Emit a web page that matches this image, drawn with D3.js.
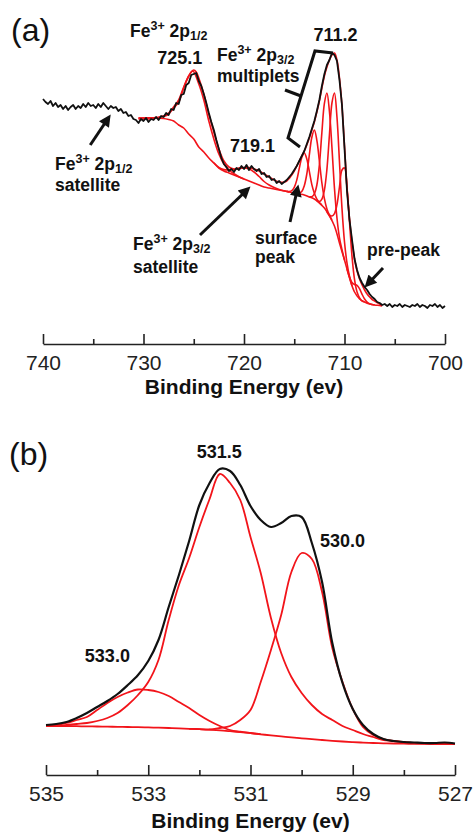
<!DOCTYPE html>
<html lang="en">
<head>
<meta charset="UTF-8">
<title>Fe 2p / O 1s XPS</title>
<script src="https://d3js.org/d3.v7.min.js"></script>
<style>
    body { margin: 0; background: #fff; }
    svg text { font-family: "Liberation Sans", Arial, sans-serif; fill: #111; }
    .lbl { font-weight: bold; font-size: 17.5px; }
    .num { font-weight: bold; font-size: 18px; }
    .axis text { font-size: 21px; fill: #222; }
    .axis path, .axis line { stroke: #222; stroke-width: 1.6px; }
    .xtitle { font-weight: bold; font-size: 21px; }
    .panel { font-size: 32px; }
</style>
</head>
<body>
<svg id="chart" width="473" height="833"></svg>
<script>
    // ---------- panel (a): Fe 2p ----------
    // measured spectrum, 740 -> 700 eV every 0.25 eV (one row per eV)
    const beA = d3.range(161).map(i => 740 - i * 0.25);
    const fe2pData = [
        217, 214, 212, 215,   210, 213, 209, 211,   207, 210, 206, 209,
        211, 207, 210, 208,   212, 209, 213, 210,   211, 208, 212, 209,
        213, 210, 207, 210,   208, 209, 205, 207,   203, 204, 200, 201,
        197, 196, 193, 197,   195, 198, 194, 197,   196, 199, 196, 200,
        199, 203, 201, 207,   206, 213, 212, 221,   222, 231, 233, 241,
        242, 243, 235, 230,   222, 213, 203, 194,   186, 176, 167, 158,
        152, 149, 145, 147,   144, 148, 146, 150,   147, 151, 146, 150,
        147, 145, 147, 142,   143, 139, 140, 136,   137, 133, 135, 132,
        134, 136, 139, 142,   146, 150, 155, 160,   165, 172, 179, 187,
        195, 205, 216, 230,   242, 251, 256, 263,   261, 255, 236, 211,
        168, 125, 96, 76,     57, 46, 38, 33,       29, 26, 22, 19,
        17, 14, 13, 11,       12, 10, 12, 9,        11, 10, 12, 9,
        11, 10, 9, 11,        10, 12, 9, 11,        10, 8, 11, 10,
        12, 9, 11, 8,
        10
    ];
    const fe2pEnvelope = [[730.5,197],[730,197],[729.5,197],[729,197.5],[728.5,198.5],[728,200],[727.5,203],[727,209],
        [726.5,216],[726,229],[725.5,240],[725.25,244],[725,246],[724.75,244],[724.5,238],[724,222],[723.5,202],
        [723,184],[722.5,167],[722,155],[721.5,149],[721,147],[720.5,148],[720,148.5],[719.5,148.5],[719,147],
        [718.5,145],[718,142],[717.5,139],[717,136],[716.5,134],[716,134],[715.75,135],[715.5,137.5],[715.25,141],
        [715,145],[714.75,150],[714.5,155],[714.25,160],[714,165],[713.75,171],[713.5,178],[713.25,186],[713,194],
        [712.75,204],[712.5,215],[712.25,228],[712,240],[711.75,249],[711.5,256],[711.25,261],[711,263],[710.75,256],
        [710.5,238],[710.25,210],[710,170],[709.75,128],[709.5,97],[709.25,74],[709,57],[708.75,45],[708.5,37],
        [708.25,31],[708,26],[707.75,22],[707.5,19],[707.25,16.5],[707,15],[706.75,13.5],[706.5,12],[706.25,11]];
    const fe2pBackground = [[730.5,198],[730,198],[729,198],[728,197.5],[727.5,196.5],[727,195],[726.5,191],[726,188],
        [725.5,182],[725,177],[724.5,169],[724,164],[723.5,158],[723,153],[722.5,148],[722,145],[721.5,143],[721,141],
        [720.5,139],[720,137],[719.5,135],[719,133],[718.5,131],[718,129],[717.5,128],[717,127],[716.5,126],[716,125],
        [715.5,124],[715,123],[714.5,122],[714,121],[713.5,119],[713,117],[712.5,113],[712,108],[711.5,100],[711,90],
        [710.5,73],[710,56],[709.5,38],[709,24],[708.5,17],[708,14],[707.5,12],[707,11],[706.5,10.5],[706.25,10]];
    const fe2p12Peak = [[730.5,198],[730,198],[729.5,198.2],[729,198.3],[728.5,198.8],[728,199.5],[727.5,202],[727,208],
        [726.5,214],[726,228],[725.5,240],[725.1,245],[724.5,232],[724,216],[723.5,195],[723,177],[722.5,162],
        [722,152],[721.5,146],[721,142.3],[720.5,139.3],[720,137]];
    const fe2p32Satellite = [[723,153.2],[722.5,148.5],[722,146.4],[721.5,146],[721,146.5],[720.5,147.5],[720,148],
        [719.5,147],[719,144],[718.5,139.5],[718,134.5],[717.5,131],[717,128.4],[716.5,126.5],[716,125.2],[715.5,124]];
    const surfacePeak = [[715.75,124.6],[715.5,124.5],[715.25,125.3],[715,128.7],[714.75,135.9],[714.5,147.6],
        [714.25,158.5],[714,163],[713.75,157],[713.5,144.6],[713.25,131.4],[713,122.7],[712.75,116.8],[712.5,113.5],[712.25,111.2]];
    const multiplet1 = [[714.75,122.5],[714.5,122.8],[714.25,124.5],[714,130.3],[713.75,142],[713.5,161],[713.25,178.7],
        [713,186],[712.75,175.7],[712.5,155],[712.25,133],[712,117.3],[711.75,107],[711.5,100.8],[711.25,96]];
    const multiplet2 = [[713.5,119.2],[713.25,119.3],[713,122.2],[712.75,131],[712.5,151],[712.25,183.6],[712,212.7],
        [711.75,223],[711.5,204.7],[711.25,168.6],[711,128],[710.75,98],[710.5,78.2],[710.25,66.3],[710,56]];
    const multiplet3 = [[712.75,115.2],[712.5,114.5],[712.25,116.9],[712,126],[711.75,146.6],[711.5,181],[711.25,213],
        [711,223],[710.75,199],[710.5,154],[710.25,107.6],[710,74],[709.75,52.9],[709.5,39.5],[709.25,30]];
    const multiplet4 = [[711.75,104],[711.5,101],[711.25,100],[711,102.4],[710.75,111.4],[710.5,129],[710.25,146],
        [710,148],[709.75,128],[709.5,94],[709.25,59.4],[709,36.4],[708.75,24],[708.5,18],[708.25,15],[708,14]];
    const prePeak = [[709.75,47],[709.5,39],[709.25,33.5],[709,31.5],[708.75,30.7],[708.5,27.2],[708.25,21.7],
        [708,17],[707.75,13.9],[707.5,12.2],[707.25,11.5],[707,11]];

    const ticksA = [740, 730, 720, 710, 700];
    const minorTicksA = [735, 725, 715, 705];

    // ---------- panel (b): O 1s ----------
    // 535 -> 527 eV every 0.2 eV
    const beB = d3.range(41).map(i => 535 - i * 0.2);
    const o1sData = [20, 21, 23, 27, 32, 38, 44, 51, 60, 70, 84, 105, 138, 170, 204, 240, 262, 276, 274, 260,
        239, 225, 218, 222, 229, 228, 202, 163, 102, 62, 36, 20, 11, 6, 4, 3, 2.5, 2, 2, 2.5, 1.5];
    const o1sBackground = [19, 19, 19, 18.8, 18.6, 18.5, 18.3, 18.2, 18, 17.9, 17.6, 17.3, 17, 16.6, 16.2, 15.8,
        15.3, 14.7, 13.8, 12.8, 11.8, 10.7, 9.6, 8.6, 7.6, 6.7, 5.8, 5, 4.2, 3.5, 2.9, 2.4, 2, 1.7, 1.5, 1.3,
        1.2, 1.1, 1, 1, 1];
    const o1s531 = [19, 19, 20, 21, 22, 24, 27, 32, 40, 50, 63, 85, 125, 160, 187, 218, 246, 271, 262, 245,
        208, 172, 127, 92, 68, 52, 40, 31, 25, 19, 15, 11, 8, 5, 4, 2.5, 1.8, 1.5, 1.2, 1, 1];
    const o1s533 = [[535,19],[534.8,20],[534.6,22],[534.4,25],[534.2,28],[534,35],[533.8,42],[533.6,48],[533.4,52.5],
        [533.2,55.5],[533,55],[532.8,53],[532.6,49],[532.4,43],[532.2,37],[532,30],[531.8,24],[531.6,19],
        [531.4,15],[531.2,13.3],[531,12],[530.8,10.8]];
    const o1s530 = [[532.2,16.2],[532,15.9],[531.8,15.5],[531.6,17],[531.4,19],[531.2,25],[531,35],[530.8,63],
        [530.6,95],[530.4,130],[530.2,173],[530,192],[529.8,186],[529.6,153],[529.4,97],[529.2,63],[529,36],
        [528.8,18],[528.6,10],[528.4,6],[528.2,4],[528,3],[527.8,2],[527.6,2],[527.4,1.5],[527.2,1.2],[527,1]];

    const ticksB = [535, 533, 531, 529, 527];
    const minorTicksB = [534, 532, 530, 528];

    const RED = "#f2141a";
    const svg = d3.select("#chart");

    svg.append("defs").append("marker")
        .attr("id", "arrow")
        .attr("viewBox", "0 0 10 10")
        .attr("refX", 2).attr("refY", 5)
        .attr("markerWidth", 4.6).attr("markerHeight", 4)
        .attr("orient", "auto")
        .append("path").attr("d", "M0,0L10,5L0,10z").attr("fill", "#111");

    function drawAxis(x, y0, major, minor, title, titleY) {
        svg.append("g").attr("class", "axis")
            .attr("transform", `translate(0,${y0})`)
            .call(d3.axisBottom(x).tickValues(major).tickSizeInner(-10).tickSizeOuter(0)
                .tickPadding(11).tickFormat(d3.format("d")));
        svg.append("g").attr("class", "axis")
            .attr("transform", `translate(0,${y0})`)
            .call(d3.axisBottom(x).tickValues(minor).tickSize(-5).tickFormat(""))
            .call(g => g.select(".domain").remove());
        const r = x.range();
        svg.append("text").attr("class", "xtitle")
            .attr("x", (r[0] + r[1]) / 2).attr("y", titleY)
            .attr("text-anchor", "middle").text(title);
    }

    // "Fe3+ 2p1/2" style label with super- and subscript
    function feLabel(x, y, sub) {
        const t = svg.append("text").attr("class", "lbl").attr("x", x).attr("y", y);
        t.append("tspan").text("Fe");
        t.append("tspan").attr("font-size", 12.5).attr("dy", -7).text("3+");
        t.append("tspan").attr("dy", 7).text(" 2p");
        t.append("tspan").attr("font-size", 12.5).attr("dy", 3).text(sub);
        return t;
    }

    function arrow(x, y, from, to) {
        const x1 = x(from[0]), y1 = y(from[1]), x2 = x(to[0]), y2 = y(to[1]);
        const len = Math.hypot(x2 - x1, y2 - y1), back = 9;
        svg.append("line")
            .attr("x1", x1).attr("y1", y1)
            .attr("x2", x2 - (x2 - x1) * back / len).attr("y2", y2 - (y2 - y1) * back / len)
            .attr("stroke", "#111").attr("stroke-width", 3)
            .attr("marker-end", "url(#arrow)");
    }

    // ---- panel (a)
    const xA = d3.scaleLinear().domain([740, 700]).range([43, 445]);
    const yA = d3.scaleLinear().domain([0, 270]).range([316, 46]);
    const lineA = d3.line().x(d => xA(d[0])).y(d => yA(d[1])).curve(d3.curveCatmullRom.alpha(0.5));

    const gA = svg.append("g");
    [fe2pBackground, fe2p12Peak, fe2p32Satellite, surfacePeak, multiplet1, multiplet2, multiplet3, multiplet4, prePeak, fe2pEnvelope]
        .forEach(s => gA.append("path").attr("d", lineA(s)).attr("fill", "none")
            .attr("stroke", RED).attr("stroke-width", 1.6));
    gA.append("path")
        .attr("d", d3.line().x((d, i) => xA(beA[i])).y(d => yA(d))(fe2pData))
        .attr("fill", "none").attr("stroke", "#111").attr("stroke-width", 1.8)
        .attr("stroke-linejoin", "round");

    drawAxis(xA, 344, ticksA, minorTicksA, "Binding Energy (ev)", 394);

    svg.append("text").attr("class", "panel").attr("x", 11).attr("y", 41).text("(a)");

    // bracket over the 2p3/2 multiplets
    const bracket = [[711.14, 263], [712.94, 265], [715.62, 178], [714.43, 169]];
    const bracketTick = [[714.33, 220], [715.92, 226]];
    const straight = d3.line().x(d => xA(d[0])).y(d => yA(d[1]));
    svg.append("path").attr("d", straight(bracket)).attr("fill", "none")
        .attr("stroke", "#111").attr("stroke-width", 3);
    svg.append("path").attr("d", straight(bracketTick)).attr("fill", "none")
        .attr("stroke", "#111").attr("stroke-width", 3);

    feLabel(xA(731.34), yA(279), "1/2");
    svg.append("text").attr("class", "num").attr("x", xA(726.4)).attr("y", yA(252))
        .attr("text-anchor", "middle").text("725.1");
    feLabel(xA(722.69), yA(255), "3/2");
    svg.append("text").attr("class", "lbl").attr("x", xA(722.69)).attr("y", yA(234)).text("multiplets");
    svg.append("text").attr("class", "num").attr("x", xA(710.9)).attr("y", yA(275))
        .attr("text-anchor", "middle").text("711.2");
    svg.append("text").attr("class", "num").attr("x", xA(719.15)).attr("y", yA(164))
        .attr("text-anchor", "middle").text("719.1");

    feLabel(xA(738.8), yA(146), "1/2");
    svg.append("text").attr("class", "lbl").attr("x", xA(738.8)).attr("y", yA(125)).text("satellite");
    feLabel(xA(731.04), yA(66), "3/2");
    svg.append("text").attr("class", "lbl").attr("x", xA(731.04)).attr("y", yA(43)).text("satellite");
    svg.append("text").attr("class", "lbl").attr("x", xA(718.9)).attr("y", yA(72)).text("surface");
    svg.append("text").attr("class", "lbl").attr("x", xA(718.9)).attr("y", yA(53)).text("peak");
    svg.append("text").attr("class", "lbl").attr("x", xA(707.76)).attr("y", yA(60)).text("pre-peak");

    arrow(xA, yA, [735.3, 171], [733.3, 201]);
    arrow(xA, yA, [724.38, 81], [719.4, 129]);
    arrow(xA, yA, [715.42, 94], [714.6, 131]);
    arrow(xA, yA, [706.17, 48], [707.96, 29]);

    // ---- panel (b)
    const xB = d3.scaleLinear().domain([535, 527]).range([46, 455]);
    const yB = d3.scaleLinear().domain([0, 290]).range([745, 455]);
    const lineB = d3.line().x(d => xB(d[0])).y(d => yB(d[1])).curve(d3.curveCatmullRom.alpha(0.5));
    const onGrid = arr => arr.map((v, i) => [beB[i], v]);

    const gB = svg.append("g");
    [onGrid(o1sBackground), o1s533, onGrid(o1s531), o1s530]
        .forEach(s => gB.append("path").attr("d", lineB(s)).attr("fill", "none")
            .attr("stroke", RED).attr("stroke-width", 1.8));
    gB.append("path").attr("d", lineB(onGrid(o1sData)))
        .attr("fill", "none").attr("stroke", "#111").attr("stroke-width", 2.2);

    drawAxis(xB, 775, ticksB, minorTicksB, "Binding Energy (ev)", 828);

    svg.append("text").attr("class", "panel").attr("x", 9).attr("y", 465).text("(b)");
    svg.append("text").attr("class", "num").attr("x", xB(531.61)).attr("y", yB(287))
        .attr("text-anchor", "middle").text("531.5");
    svg.append("text").attr("class", "num").attr("x", xB(529.64)).attr("y", yB(198)).text("530.0");
    svg.append("text").attr("class", "num").attr("x", xB(534.24)).attr("y", yB(83)).text("533.0");
</script>
</body>
</html>
